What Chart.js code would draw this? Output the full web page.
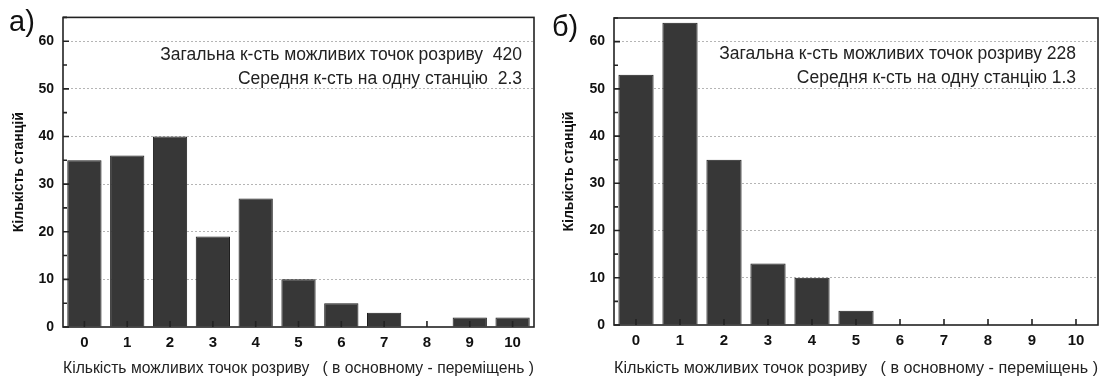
<!DOCTYPE html>
<html>
<head>
<meta charset="utf-8">
<script src="https://cdn.jsdelivr.net/npm/chart.js@4.4.1/dist/chart.umd.min.js"></script>
<style>
  body { margin: 0; background: #fff; width: 1102px; height: 376px; position: relative; overflow: hidden; font-family: "Liberation Sans", Arial, sans-serif; }
  .panel { position: absolute; top: 0; height: 376px; }
  .lbl { position: absolute; font-size: 29px; line-height: 1; color: #111; }
</style>
</head>
<body>
<div class="panel" style="left:0;width:550px"><canvas id="grafik-a"></canvas></div>
<div class="panel" style="left:550px;width:552px"><canvas id="grafik-b"></canvas></div>
<div class="lbl" style="left:9px;top:7px">а)</div>
<div class="lbl" style="left:552px;top:12px">б)</div>
<script>
const categories = ["0", "1", "2", "3", "4", "5", "6", "7", "8", "9", "10"];
const stationsA = [35, 36, 40, 19, 27, 10, 5, 3, 0, 2, 2];
const stationsB = [53, 64, 35, 13, 10, 3, 0, 0, 0, 0, 0];
const notesA = ["Загальна к-сть можливих точок розриву  420", "Середня к-сть на одну станцію  2.3"];
const notesB = ["Загальна к-сть можливих точок розриву 228", "Середня к-сть на одну станцію 1.3"];
const yTitle = "Кількість станцій";
const xTitle = "Кількість можливих точок розриву   ( в основному - переміщень )";

Chart.defaults.font.family = "'Liberation Sans', Arial, sans-serif";
Chart.defaults.color = "#111";

// frame, inward ticks and the text notes inside the plot
const frame = {
  id: "frame",
  afterDraw(chart) {
    const { ctx, chartArea: a, scales } = chart;
    const x = scales.x;
    const y = scales.y;
    ctx.save();
    ctx.strokeStyle = "#222";
    ctx.lineWidth = 1.6;
    ctx.strokeRect(a.left, a.top, a.right - a.left, a.bottom - a.top);
    ctx.beginPath();
    y.ticks.forEach((t) => {
      const py = y.getPixelForValue(t.value);
      const len = t.value % 10 === 0 ? 6 : 4;
      ctx.moveTo(a.left, py);
      ctx.lineTo(a.left + len, py);
    });
    x.ticks.forEach((t, i) => {
      const px = x.getPixelForTick(i);
      ctx.moveTo(px, a.bottom);
      ctx.lineTo(px, a.bottom - 6);
    });
    ctx.stroke();
    const n = chart.options.plugins.frame;
    ctx.fillStyle = "#222";
    ctx.font = "17.5px 'Liberation Sans', Arial, sans-serif";
    ctx.textAlign = "right";
    ctx.textBaseline = "middle";
    n.notes.forEach((s, i) => {
      ctx.fillText(s, a.right - n.right, a.top + n.top + i * 24);
    });
    ctx.restore();
  },
};

function grafik(id, values, notes, opt) {
  return new Chart(document.getElementById(id), {
    type: "bar",
    data: {
      labels: categories,
      datasets: [
        {
          data: values,
          backgroundColor: "#373737",
          borderColor: "#1c1c1c",
          borderWidth: 1,
          categoryPercentage: 0.8,
          barPercentage: 1,
        },
      ],
    },
    options: {
      responsive: true,
      maintainAspectRatio: false,
      animation: false,
      layout: { padding: { top: opt.top, right: opt.right, left: 0, bottom: 0 } },
      plugins: {
        legend: { display: false },
        tooltip: { enabled: false },
        frame: { notes: notes, top: opt.noteTop, right: opt.noteRight },
      },
      scales: {
        x: {
          grid: { display: false, drawTicks: false },
          border: { display: false },
          ticks: { font: { size: 15, weight: "bold" }, padding: 7 },
          title: { display: true, text: xTitle, color: "#222", font: { size: 16.5, lineHeight: 0.9 }, padding: { top: 0, bottom: 0 } },
          afterFit: (s) => { s.height = opt.xHeight; },
        },
        y: {
          min: 0,
          max: 65,
          border: { display: false, dash: [2, 2] },
          grid: {
            drawTicks: false,
            color: (c) => (c.tick && c.tick.value > 0 && c.tick.value % 10 === 0 ? "#b5b5b5" : "rgba(0,0,0,0)"),
          },
          ticks: {
            stepSize: 5,
            padding: 9,
            font: { size: 14, weight: "bold" },
            callback: (v) => (v % 10 === 0 ? v : ""),
          },
          title: { display: true, text: yTitle, font: { size: 14, weight: "bold" }, padding: { top: 11 } },
          afterFit: (s) => { s.width = opt.yWidth; },
        },
      },
    },
    plugins: [frame],
  });
}

let salesA = grafik("grafik-a", stationsA, notesA, { top: 14, right: 16, xHeight: 49, yWidth: 63, noteTop: 38, noteRight: 12 });
let salesB = grafik("grafik-b", stationsB, notesB, { top: 18, right: 4, xHeight: 51, yWidth: 64, noteTop: 36, noteRight: 22 });
</script>
</body>
</html>
